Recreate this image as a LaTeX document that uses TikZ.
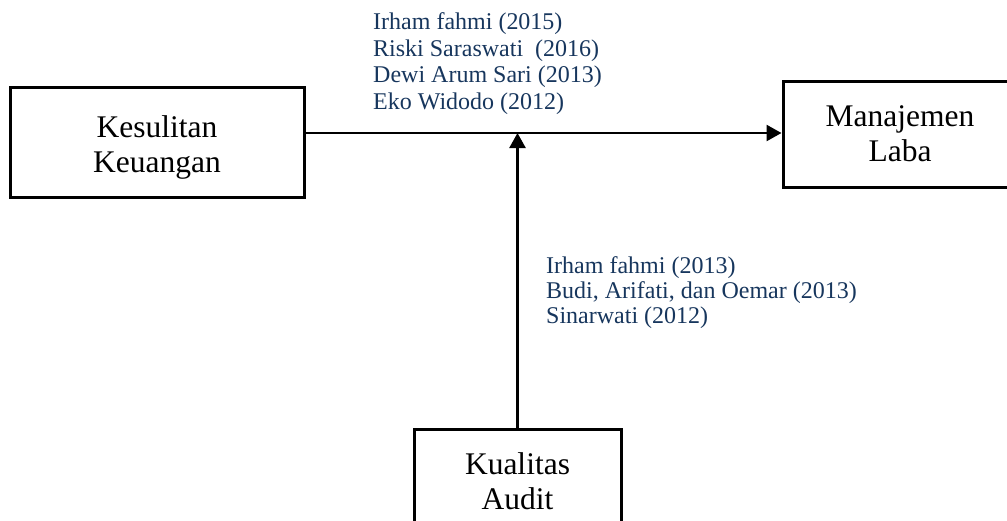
\documentclass[tikz,border=0pt]{standalone}
\usepackage{fontspec}
\setmainfont{Liberation Serif}
\usetikzlibrary{arrows.meta}
\definecolor{refnavy}{HTML}{17365D}
\tikzset{
  box/.style={draw=black, line width=3pt, align=center, inner sep=0pt,
    font=\fontsize{31.5}{35}\selectfont},
  arr/.style={draw=black, line width=2.5pt, -{Triangle[length=15pt,width=16pt]}},
  refs/.style={text=refnavy, align=left, anchor=north west, inner sep=0pt,
    font=\fontsize{24}{26.5}\selectfont},
}
\begin{document}
\begin{tikzpicture}[x=1pt,y=-1pt]
\useasboundingbox (0,0) rectangle (1007,520);
\clip (0,0) rectangle (1007,520);
\node[box, minimum width=294pt, minimum height=110pt] (kk) at (157,142) {\rule{0pt}{32pt}Kesulitan\\Keuangan};
\node[box, minimum width=234pt, minimum height=106pt] (ml) at (900,134) {Manajemen\\Laba};
\node[box, minimum width=207pt, minimum height=105pt] (ka) at (517.5,481.5) {Kualitas\\Audit};
\coordinate (j) at (517.5,133);
\coordinate (hs) at (kk.east |- j);
\coordinate (he) at (ml.west |- j);
\draw[arr] (hs) -- (he);
\draw[arr] (ka.north) -- (j);
\node[refs] (r1) at (373,12.5) {Irham fahmi (2015)\\Riski Saraswati~ (2016)\\Dewi Arum Sari (2013)\\Eko Widodo (2012)};
\node[refs, font=\fontsize{24}{25}\selectfont] (r2) at (546,256.5) {Irham fahmi (2013)\\Budi, Arifati, dan Oemar (2013)\\Sinarwati (2012)};
\end{tikzpicture}
\end{document}
